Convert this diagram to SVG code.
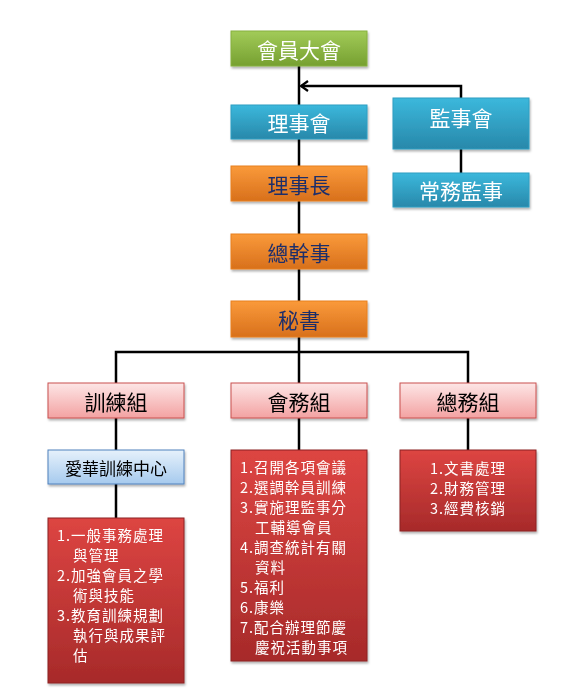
<svg xmlns="http://www.w3.org/2000/svg" width="580" height="700" viewBox="0 0 580 700">
<style>
.t{font-family:"Noto Sans CJK TC","Noto Sans CJK SC",sans-serif;font-size:21px;text-anchor:middle;dominant-baseline:central}
.w{fill:#ffffff}
.n{fill:#1f2f6b}
.k{fill:#000000}
.s{font-family:"Noto Sans CJK TC","Noto Sans CJK SC",sans-serif;font-size:14.5px;letter-spacing:1px;fill:#ffffff;dominant-baseline:central}
.c{stroke:#000;stroke-width:2.5;fill:none}
</style>
<defs>
<linearGradient id="gG" x1="0" y1="0" x2="0" y2="1"><stop offset="0" stop-color="#a2cb59"/><stop offset="1" stop-color="#76a030"/></linearGradient>
<linearGradient id="gB" x1="0" y1="0" x2="0" y2="1"><stop offset="0" stop-color="#3bb8dc"/><stop offset="1" stop-color="#2888aa"/></linearGradient>
<linearGradient id="gO" x1="0" y1="0" x2="0" y2="1"><stop offset="0" stop-color="#fa9a3a"/><stop offset="1" stop-color="#d8701c"/></linearGradient>
<linearGradient id="gP" x1="0" y1="0" x2="0" y2="1"><stop offset="0" stop-color="#fde6e6"/><stop offset="1" stop-color="#f3a2a2"/></linearGradient>
<linearGradient id="gL" x1="0" y1="0" x2="0" y2="1"><stop offset="0" stop-color="#e6f1fb"/><stop offset="1" stop-color="#a6caee"/></linearGradient>
<linearGradient id="gR" x1="0" y1="0" x2="0" y2="1"><stop offset="0" stop-color="#dd4542"/><stop offset="1" stop-color="#a72a2a"/></linearGradient>
<filter id="sh" x="-10%" y="-10%" width="125%" height="130%"><feDropShadow dx="1" dy="2" stdDeviation="1.2" flood-color="#000" flood-opacity="0.3"/></filter>
<marker id="ar" viewBox="0 0 12 12" refX="10" refY="6" markerWidth="12" markerHeight="12" markerUnits="userSpaceOnUse" orient="auto"><path d="M3,1 L10,6 L3,11" fill="none" stroke="#000" stroke-width="2.2"/></marker>
</defs>
<g id="connectors">
<path class="c" d="M299,66 V105 M299,139 V166 M299,201 V234 M299,269 V301 M299,337 V352"/>
<path class="c" d="M461,98 V86 H301" marker-end="url(#ar)"/>
<path class="c" d="M461,149 V173"/>
<path class="c" d="M116,383 V352 H468 V383 M299,352 V383"/>
<path class="c" d="M116,418 V450 M116,484 V518 M299,418 V450 M468,418 V450"/>
</g>
<g id="n1" filter="url(#sh)"><rect x="231" y="31" width="136" height="35" fill="url(#gG)" stroke="#86b03e" stroke-width="1"/><text class="t w" x="299" y="48.5">會員大會</text></g>
<g id="n2" filter="url(#sh)"><rect x="231" y="105" width="136" height="34" fill="url(#gB)" stroke="#2f9ec2" stroke-width="1"/><text class="t w" x="299" y="122">理事會</text></g>
<g id="n3" filter="url(#sh)"><rect x="393" y="98" width="136" height="51" fill="url(#gB)" stroke="#2f9ec2" stroke-width="1"/><text class="t w" x="461" y="117">監事會</text></g>
<g id="n4" filter="url(#sh)"><rect x="393" y="173" width="136" height="34" fill="url(#gB)" stroke="#2f9ec2" stroke-width="1"/><text class="t w" x="461" y="190">常務監事</text></g>
<g id="n5" filter="url(#sh)"><rect x="231" y="166" width="136" height="35" fill="url(#gO)" stroke="#e8801f" stroke-width="1"/><text class="t n" x="299" y="183.5">理事長</text></g>
<g id="n6" filter="url(#sh)"><rect x="231" y="234" width="136" height="35" fill="url(#gO)" stroke="#e8801f" stroke-width="1"/><text class="t n" x="299" y="251.5">總幹事</text></g>
<g id="n7" filter="url(#sh)"><rect x="231" y="301" width="136" height="36" fill="url(#gO)" stroke="#e8801f" stroke-width="1"/><text class="t n" x="299" y="319">秘書</text></g>
<g id="n8" filter="url(#sh)"><rect x="48" y="383" width="136" height="35" fill="url(#gP)" stroke="#c9504e" stroke-width="1"/><text class="t k" x="116" y="400.5">訓練組</text></g>
<g id="n9" filter="url(#sh)"><rect x="231" y="383" width="136" height="35" fill="url(#gP)" stroke="#c9504e" stroke-width="1"/><text class="t k" x="299" y="400.5">會務組</text></g>
<g id="n10" filter="url(#sh)"><rect x="400" y="383" width="136" height="35" fill="url(#gP)" stroke="#c9504e" stroke-width="1"/><text class="t k" x="468" y="400.5">總務組</text></g>
<g id="n11" filter="url(#sh)"><rect x="48" y="450" width="136" height="34" fill="url(#gL)" stroke="#4f81bd" stroke-width="1"/><text class="t k" x="116" y="467" style="font-size:17px">愛華訓練中心</text></g>
<g id="n12" filter="url(#sh)"><rect x="48" y="518" width="136" height="165" fill="url(#gR)" stroke="#8c2222" stroke-width="1"/>
<text class="s" x="57" y="534">1.一般事務處理</text>
<text class="s" x="73" y="554">與管理</text>
<text class="s" x="57" y="574">2.加強會員之學</text>
<text class="s" x="73" y="594">術與技能</text>
<text class="s" x="57" y="614">3.教育訓練規劃</text>
<text class="s" x="73" y="634">執行與成果評</text>
<text class="s" x="73" y="654">估</text>
</g>
<g id="n13" filter="url(#sh)"><rect x="231" y="450" width="136" height="211" fill="url(#gR)" stroke="#8c2222" stroke-width="1"/>
<text class="s" x="240" y="466">1.召開各項會議</text>
<text class="s" x="240" y="486">2.選調幹員訓練</text>
<text class="s" x="240" y="506">3.實施理監事分</text>
<text class="s" x="255" y="526">工輔導會員</text>
<text class="s" x="240" y="546">4.調查統計有關</text>
<text class="s" x="255" y="566">資料</text>
<text class="s" x="240" y="586">5.福利</text>
<text class="s" x="240" y="606">6.康樂</text>
<text class="s" x="240" y="626">7.配合辦理節慶</text>
<text class="s" x="255" y="646">慶祝活動事項</text>
</g>
<g id="n14" filter="url(#sh)"><rect x="400" y="450" width="136" height="81" fill="url(#gR)" stroke="#8c2222" stroke-width="1"/>
<text class="s" x="430" y="467">1.文書處理</text>
<text class="s" x="430" y="487">2.財務管理</text>
<text class="s" x="430" y="507">3.經費核銷</text>
</g>
</svg>
